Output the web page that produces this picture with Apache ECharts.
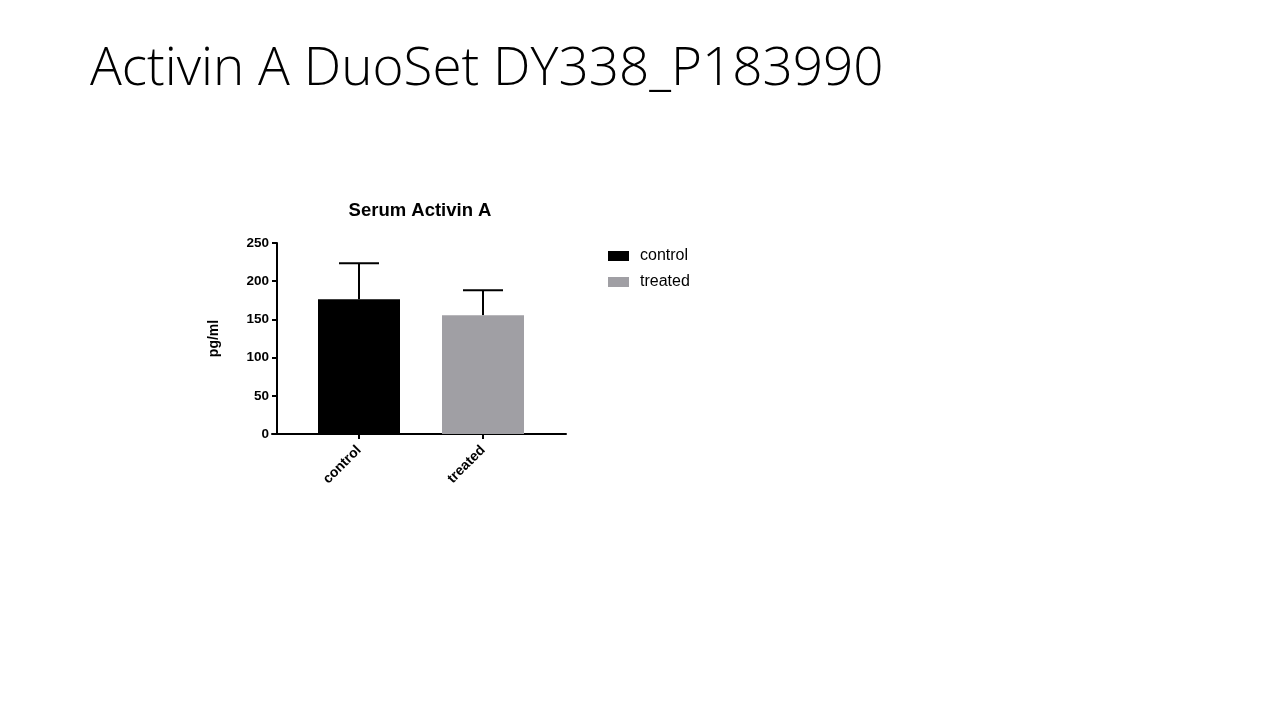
<!DOCTYPE html>
<html lang="en">
<head>
    <meta charset="UTF-8">
    <title>Activin A DuoSet DY338_P183990</title>
    <script src="https://cdn.jsdelivr.net/npm/echarts@6/dist/echarts.min.js"></script>
    <style>
        html, body { margin: 0; padding: 0; background: #fff; }
        #chart { width: 1280px; height: 720px; }
    </style>
</head>
<body>
<div id="chart"></div>
<script>
    // values
    var categories = ['control', 'treated'];
    var means = [176.5, 155.5];
    var errors = [47, 32.5];
    var barColors = ['#000000', '#a09fa4'];
    var yTicks = { min: 0, max: 250, interval: 50 };

    var chart = echarts.init(document.getElementById('chart'));

    var font = 'Liberation Sans, Arial, sans-serif';

    var barData = means.map(function (v, i) {
        return { value: v, itemStyle: { color: barColors[i] } };
    });
    var errData = means.map(function (v, i) {
        return [i, v, v + errors[i]];
    });

    var option = {
        animation: false,
        title: [{
            text: 'Activin A DuoSet DY338_P183990',
            left: 85,
            top: 38,
            textStyle: { fontFamily: 'Open Sans', fontWeight: 300, fontSize: 53, color: '#000' }
        }, {
            text: 'Serum Activin A',
            left: 415,
            top: 196,
            textAlign: 'center',
            textStyle: { fontFamily: font, fontWeight: 'bold', fontSize: 18.5, color: '#000' }
        }],
        legend: {
            orient: 'vertical',
            left: 608,
            top: 248,
            padding: 0,
            icon: 'rect',
            itemWidth: 21,
            itemHeight: 10,
            itemGap: 10,
            data: [
                { name: categories[0], itemStyle: { color: barColors[0] } },
                { name: categories[1], itemStyle: { color: barColors[1] } }
            ],
            textStyle: { fontFamily: font, fontSize: 16, color: '#000', padding: [0, 0, 0, 6] }
        },
        grid: [
            { left: 297, top: 243, width: 248, height: 191 },
            { left: 272, top: 243, width: 294, height: 191 }
        ],
        xAxis: [{
            type: 'category',
            gridIndex: 0,
            data: categories,
            axisLine: { show: false },
            axisTick: { show: true, alignWithLabel: true, length: 5, lineStyle: { color: '#000', width: 2 } },
            axisLabel: { rotate: 45, margin: 14, color: '#000', fontFamily: font, fontWeight: 'bold', fontSize: 14 }
        }, {
            type: 'value',
            gridIndex: 1,
            axisLine: { show: true, onZero: false, lineStyle: { color: '#000', width: 2 } },
            axisTick: { show: false },
            axisLabel: { show: false },
            splitLine: { show: false }
        }],
        yAxis: [{
            type: 'value',
            gridIndex: 0,
            min: yTicks.min,
            max: yTicks.max,
            interval: yTicks.interval,
            offset: 20,
            name: 'pg/ml',
            nameLocation: 'middle',
            nameGap: 56,
            nameTextStyle: { fontFamily: font, fontWeight: 'bold', fontSize: 14, color: '#000' },
            axisLine: { show: true, lineStyle: { color: '#000', width: 2 } },
            axisTick: { show: true, length: 5, lineStyle: { color: '#000', width: 2 } },
            axisLabel: { margin: 8, color: '#000', fontFamily: font, fontWeight: 'bold', fontSize: 13.5 },
            splitLine: { show: false }
        }, {
            type: 'value',
            gridIndex: 1,
            show: false
        }],
        series: [{
            type: 'bar',
            name: 'bars',
            xAxisIndex: 0,
            yAxisIndex: 0,
            barWidth: 82,
            data: barData,
            z: 2
        }, {
            type: 'custom',
            name: 'error',
            xAxisIndex: 0,
            yAxisIndex: 0,
            data: errData,
            z: 1,
            renderItem: function (params, api) {
                var base = api.coord([api.value(0), api.value(1)]);
                var top = api.coord([api.value(0), api.value(2)]);
                var half = 20;
                var style = { stroke: '#000', lineWidth: 2 };
                return {
                    type: 'group',
                    children: [
                        { type: 'line', shape: { x1: base[0], y1: base[1], x2: top[0], y2: top[1] }, style: style },
                        { type: 'line', shape: { x1: top[0] - half, y1: top[1], x2: top[0] + half, y2: top[1] }, style: style }
                    ]
                };
            }
        }, {
            // empty series only for the legend entries, kept off the bar grid
            type: 'line', name: categories[0], data: [], xAxisIndex: 1, yAxisIndex: 1
        }, {
            type: 'line', name: categories[1], data: [], xAxisIndex: 1, yAxisIndex: 1
        }]
    };
    chart.setOption(option);
</script>
</body>
</html>
